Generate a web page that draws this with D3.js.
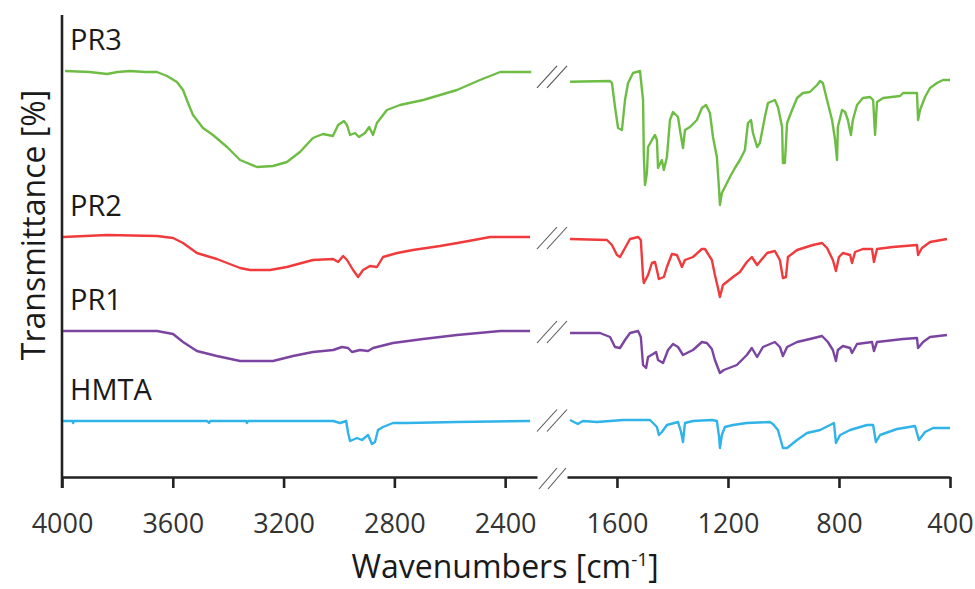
<!DOCTYPE html>
<html>
<head>
<meta charset="utf-8">
<script src="https://cdn.jsdelivr.net/npm/d3@7"></script>
<style>
  html, body { margin: 0; padding: 0; background: #fff; }
  svg { display: block; font-family: "Open Sans", "Noto Sans", sans-serif; }
</style>
</head>
<body>
<svg id="chart" width="975" height="589"></svg>
<script>
// ---- Data (wavenumber cm-1, stacked transmittance in arbitrary units) ----
const seriesNames = ["PR3", "PR2", "PR1", "HMTA"];
const seriesColors = ["#6dbd45", "#f03a3c", "#7b44a0", "#2fb3e8"];

const ticksLeft = [4000, 3600, 3200, 2800, 2400];
const ticksRight = [1600, 1200, 800, 400];

const pr3 = [
  [3989,203],[3900,202.5],[3837,201.5],[3800,202.5],[3754,203],[3700,202.5],[3657,202.5],[3621,200.5],[3585,197.5],[3563,193.5],[3545,187],
  [3527,181],[3491,174.5],[3455,171],[3404,165],[3357,158.5],[3296,155],[3238,155.5],[3188,157.5],
  [3141,162.5],[3094,169.5],[3058,171.5],[3022,170.5],[3003,176],[2982,178],[2971,176],[2960,171],
  [2942,172],[2928,170],[2906,172],[2891,175],[2877,171],[2863,177],[2827,183.5],[2780,186],
  [2696,188.5],[2574,193.5],[2491,198.5],[2418,202.5],[2306,202.5],
  [1769,197.6],[1625,198],[1618,197],[1607,185],[1596,174.5],[1582,173.5],[1571,188.5],[1560,197],
  [1542,202],[1517,203],[1506,188.5],[1503,160],[1499,146],[1492,152],[1488,165],[1474,168.5],
  [1463,171],[1456,168.5],[1452,154.5],[1438,158.5],[1431,153.5],[1420,160],[1409,178.5],[1398,182.5],
  [1380,180],[1373,173.5],[1362,164.5],[1355,173.5],[1337,175],[1312,178.5],[1294,184.5],[1279,186],
  [1265,182],[1254,170],[1240,160],[1232,143.5],[1229,136],[1222,142],[1211,145],[1193,150],
  [1175,154.5],[1157,158.5],[1139,163.5],[1128,177],[1117,178.5],[1110,172],[1095,165],[1085,167],
  [1067,180],[1056,187],[1031,188.5],[1020,185],[1005,175],[1002,157],[995,157],[987,177],
  [969,183.5],[951,189.5],[930,192],[905,192.5],[879,196],[868,198],[858,197],[843,188.5],
  [825,178.5],[814,168.5],[807,158.5],[804,175],[789,183.5],[778,182.5],[768,178.5],[757,171],
  [750,178.5],[735,186],[714,189.5],[688,190],[677,188.5],[670,171],[663,187.5],[641,189.5],
  [580,190.5],[569,192],[519,192],[515,178.5],[508,183.5],[490,190],[472,194.5],[447,197],
  [425,198.5],[400,198.5]
];

const pr2 = [
  [3996,120],[3837,121],[3657,120.5],[3599,119.5],[3563,117],[3513,112],[3441,109],[3357,104.5],
  [3321,103.5],[3249,103.5],[3188,105],[3094,108.5],[3021,109],[3003,107.5],[2985,110.5],[2971,108.5],
  [2949,103.5],[2931,100],[2913,103.5],[2888,105.5],[2863,105],[2841,110],[2790,112],[2733,113.5],
  [2635,115.5],[2552,117.5],[2454,120],[2310,120],
  [1769,119],[1636,118.5],[1618,116],[1600,111],[1589,110],[1571,114.5],[1553,119],[1524,120],
  [1514,118.5],[1506,100],[1503,97],[1488,101],[1474,107],[1463,107.5],[1456,103.5],[1449,99],
  [1431,100],[1420,105],[1402,111.5],[1384,111],[1373,107.5],[1366,105],[1355,108.5],[1326,110],
  [1294,114],[1283,114],[1258,108.5],[1247,101],[1236,94.5],[1229,90],[1218,96],[1182,100],
  [1157,102.5],[1132,107.5],[1114,110],[1095,106],[1059,112],[1031,113],[1013,108.5],[1002,99.5],
  [991,100],[984,110],[951,113.5],[894,116],[861,117],[843,114.5],[822,108.5],[811,103],
  [800,110],[786,112],[760,111],[753,107],[742,112.5],[714,114],[681,114],[674,107.5],
  [663,114],[606,115],[519,116],[515,111],[501,114.5],[472,117.5],[411,119]
];

const pr1 = [
  [3996,73],[3657,73],[3599,71.5],[3563,67.5],[3513,63],[3441,60.5],[3357,58],[3238,58],
  [3166,60.5],[3094,62.5],[3021,63.5],[2989,65],[2967,64.5],[2953,62.5],[2924,63.5],[2895,63],
  [2877,64.5],[2805,67],[2696,69],[2574,71],[2418,73],[2310,73],
  [1769,72],[1661,72],[1625,70],[1607,65],[1589,64.5],[1571,68.5],[1553,72],[1524,73],
  [1514,70],[1506,56],[1495,54.5],[1488,60],[1470,61.5],[1459,62.5],[1452,58.5],[1434,57],
  [1416,63.5],[1398,66.5],[1380,65],[1362,61],[1348,62],[1326,63.5],[1294,67.5],[1276,67],
  [1258,64],[1247,58.5],[1236,54.5],[1229,52],[1215,53.5],[1168,56],[1132,61],[1114,64.5],
  [1095,60],[1074,65],[1031,67.5],[1013,65],[1002,60.5],[987,65],[951,67.5],[905,69],
  [861,70.5],[840,67.5],[822,63.5],[811,58],[804,63.5],[786,65.5],[760,64.5],[753,62],
  [735,66.5],[681,67.5],[674,63],[663,67.5],[569,69],[519,69.5],[515,64.5],[497,67.5],
  [472,70],[411,71]
];

const hmta = [
  [3996,28],[3962,28],[3960,27],[3957,28],[3476,28],[3469,27],[3465,28],[3335,28],[3332,27],[3328,28],
  [3021,28],[2996,27],[2974,28],[2967,22],[2960,18],[2935,19.5],[2917,18.5],[2895,21],
  [2881,16.5],[2870,17.5],[2859,23.5],[2841,25],[2805,27],[2754,27],[2574,27.5],[2310,28],
  [1769,28.5],[1741,26.5],[1723,28],[1672,27.5],[1578,28.5],[1481,28.5],[1470,27],[1456,25],
  [1449,21],[1438,22.5],[1420,26],[1380,27.5],[1369,22.5],[1362,17.5],[1355,27],[1326,28],
  [1258,28.5],[1240,28],[1232,20],[1229,14.5],[1222,21],[1211,25],[1182,26],[1132,27],
  [1049,27.5],[1038,26.5],[1020,23.5],[1002,14.5],[987,14.5],[951,18.5],[915,22],[868,23.5],
  [825,26.5],[818,27],[811,17],[796,21],[760,23.5],[699,26],[677,26],[667,17.5],
  [652,21],[591,24],[526,25.5],[512,18.5],[490,22.5],[461,24.5],[400,24.5]
];

const seriesData = [pr3, pr2, pr1, hmta];

// ---- Layout ----
const axisY = 477, axisTop = 15;
const svg = d3.select("#chart");

const xL = d3.scaleLinear().domain([4000, 2285]).range([62, 537]);
const xR = d3.scaleLinear().domain([1780, 400]).range([567, 950]);
const y = d3.scaleLinear().domain([0, 231]).range([axisY, axisTop]);

const splitWn = 2000;

// ---- Spectra ----
const line = (xs) => d3.line().x(d => xs(d[0])).y(d => y(d[1]));

seriesData.forEach((data, i) => {
  const left = data.filter(d => d[0] > splitWn);
  const right = data.filter(d => d[0] < splitWn);
  const g = svg.append("g");
  [[left, xL], [right, xR]].forEach(([part, xs]) => {
    g.append("path").datum(part).attr("d", line(xs))
      .attr("fill", "none").attr("stroke", seriesColors[i]).attr("stroke-width", 2.4)
      .attr("stroke-linejoin", "round");
  });

  // break marks between the two parts
  const yl = y(left[left.length - 1][1]), yr = y(right[0][1]);
  const cy = (yl + yr) / 2;
  const cx = (xL.range()[1] + xR.range()[0]) / 2;
  [-5, 5].forEach(off => {
    g.append("line")
      .attr("x1", cx + off - 10).attr("y1", cy + 11)
      .attr("x2", cx + off + 10).attr("y2", cy - 11)
      .attr("stroke", "#555").attr("stroke-width", 1.1);
  });

  // label
  svg.append("text")
    .attr("x", 70).attr("y", y(data[0][1]) - 21)
    .attr("font-size", 29).attr("fill", "#1a1a1a")
    .text(seriesNames[i]);
});

// ---- Axes ----
const axisColor = "#222";
const fmt = d3.format("d");
const gL = svg.append("g").attr("transform", `translate(0,${axisY})`)
  .call(d3.axisBottom(xL).tickValues(ticksLeft).tickFormat(fmt).tickSize(11).tickSizeOuter(0).tickPadding(26));
const gR = svg.append("g").attr("transform", `translate(0,${axisY})`)
  .call(d3.axisBottom(xR).tickValues(ticksRight).tickFormat(fmt).tickSize(11).tickSizeOuter(0).tickPadding(26));
[gL, gR].forEach(g => {
  g.select(".domain").attr("stroke", axisColor).attr("stroke-width", 2.6);
  g.selectAll(".tick line").attr("stroke", axisColor).attr("stroke-width", 2.6);
  g.selectAll(".tick text").attr("font-size", 27).attr("fill", "#333")
    .attr("font-family", "'Open Sans', sans-serif");
});

// y axis line
svg.append("line").attr("x1", 62).attr("x2", 62).attr("y1", axisTop).attr("y2", axisY + 11)
  .attr("stroke", axisColor).attr("stroke-width", 2.6);

// axis break marks
{
  const cx = (xL.range()[1] + xR.range()[0]) / 2;
  [-4, 5].forEach(off => {
    svg.append("line")
      .attr("x1", cx + off - 9).attr("y1", axisY + 12)
      .attr("x2", cx + off + 9).attr("y2", axisY - 9)
      .attr("stroke", "#555").attr("stroke-width", 1.1);
  });
}

// axis titles
const xt = svg.append("text").attr("x", 505).attr("y", 578)
  .attr("text-anchor", "middle").attr("font-size", 32).attr("fill", "#1a1a1a");
xt.append("tspan").text("Wavenumbers [cm");
xt.append("tspan").attr("font-size", 19).attr("dy", -12).text("-1");
xt.append("tspan").attr("dy", 12).text("]");

svg.append("text")
  .attr("transform", "translate(45,225) rotate(-90)")
  .attr("text-anchor", "middle").attr("font-size", 32).attr("fill", "#1a1a1a")
  .text("Transmittance [%]");
</script>
</body>
</html>
